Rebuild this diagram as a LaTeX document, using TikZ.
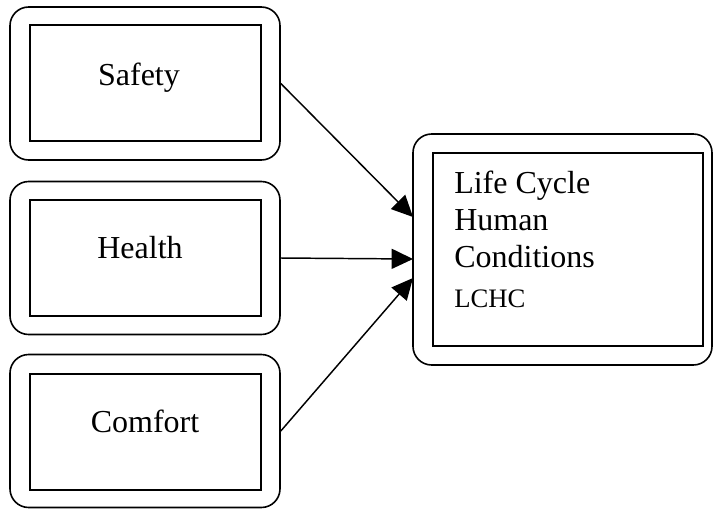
\documentclass[tikz,border=0pt]{standalone}
\usepackage{fontspec}
\setmainfont{Liberation Serif}
\usetikzlibrary{arrows.meta,calc}
\begin{document}
\begin{tikzpicture}[x=0.75pt,y=-0.75pt,
  outerbox/.style={draw,line width=1.2pt,rounded corners=14pt,inner sep=0pt},
  innerbox/.style={draw,line width=1.4pt,inner sep=0pt,font=\fontsize{24}{28}\selectfont},
  arr/.style={line width=1.1pt,-{Triangle[length=16pt,width=15pt]}}]
\useasboundingbox (0,0) rectangle (713,508);
% left outer boxes
\node[outerbox,minimum width=202.5pt,minimum height=114.75pt] (safety) at (145,83.5) {};
\node[outerbox,minimum width=202.5pt,minimum height=114.75pt] (health) at (145,258) {};
\node[outerbox,minimum width=202.5pt,minimum height=114.75pt] (comfort) at (145,431) {};
% inner boxes
\node[innerbox,minimum width=173.25pt,minimum height=87pt] (safetyin) at (145.5,83) {};
\node[innerbox,minimum width=173.25pt,minimum height=87pt] (healthin) at (145.5,258) {};
\node[innerbox,minimum width=173.25pt,minimum height=87pt] (comfortin) at (145.5,432) {};
\node[font=\fontsize{24}{28}\selectfont,anchor=base] (tsafety) at (139,85) {Safety};
\node[font=\fontsize{24}{28}\selectfont,anchor=base] (thealth) at (140,258) {Health};
\node[font=\fontsize{24}{28}\selectfont,anchor=base] (tcomfort) at (145,432) {Comfort};
% right box
\node[outerbox,minimum width=224.25pt,minimum height=173.25pt] (lchc) at (562.5,249.5) {};
\node[innerbox,minimum width=202.5pt,minimum height=144.75pt] (lchcin) at (568,249.5) {};
\node[anchor=base west,inner sep=0pt,font=\fontsize{24}{28}\selectfont] (t1) at (454,193) {Life Cycle};
\node[anchor=base west,inner sep=0pt,font=\fontsize{24}{28}\selectfont] (t2) at (454,230) {Human};
\node[anchor=base west,inner sep=0pt,font=\fontsize{24}{28}\selectfont] (t3) at (454,267) {Conditions};
\node[anchor=base west,inner sep=0pt,font=\fontsize{20}{24}\selectfont] (t4) at (454,307) {LCHC};
% arrow ends
\coordinate (e1) at (413,217);
\coordinate (e2) at (413,259);
\coordinate (e3) at (413,278);
\draw[arr] (safety.east) -- (e1);
\draw[arr] (health.east) -- (e2);
\draw[arr] (comfort.east) -- (e3);
\end{tikzpicture}
\end{document}
